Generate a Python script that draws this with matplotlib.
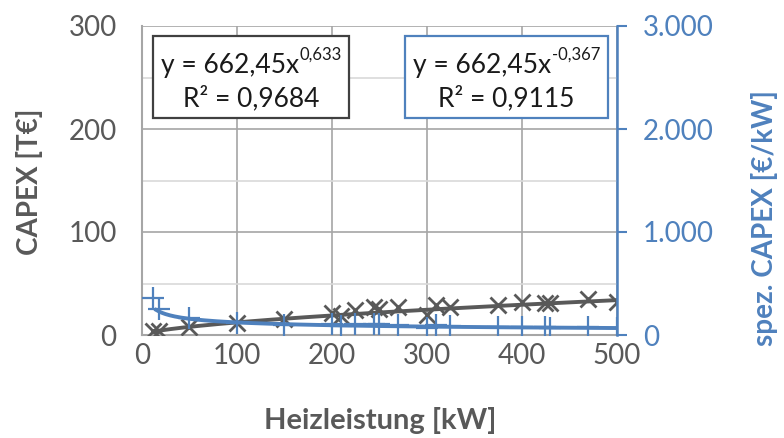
import numpy as np
import matplotlib
matplotlib.use("Agg")
import matplotlib.pyplot as plt
from matplotlib.patches import Rectangle

plt.rcParams['font.family'] = ['Lato', 'DejaVu Sans']

# ---- data ----
power_kw = [12, 18, 50, 100, 150, 200, 210, 225, 245, 250, 270, 300, 310, 325, 375, 400, 425, 430, 470, 500]
capex_teur = [3.5, 4.0, 8.1, 11.9, 15.2, 21.0, 18.0, 24.0, 27.0, 25.5, 27.0, 19.5, 29.0, 27.5, 29.0, 32.0, 31.0, 31.0, 35.0, 32.0]
spez_capex = [355, 250, 162, 119, 101, 105, 86, 107, 110, 102, 100, 65, 94, 85, 77, 80, 73, 72, 74, 64]

fit_coef = 662.45
fit_exp_capex = 0.633
fit_exp_spez = -0.367
eq_capex = ("y = 662,45x", "0,633", "R² = 0,9684")
eq_spez = ("y = 662,45x", "-0,367", "R² = 0,9115")

x_ticks = [0, 100, 200, 300, 400, 500]
y_left_ticks = [0, 100, 200, 300]
y_right_ticks = [0, 1000, 2000, 3000]
y_right_labels = ["0", "1.000", "2.000", "3.000"]

GRAY = '#595959'
BLUE = '#4F81BD'
TXT = '#595959'

W, H = 784, 438
fig = plt.figure(figsize=(W / 100, H / 100), dpi=100)
ax = fig.add_axes([141.7 / W, 1 - 335 / H, (616.7 - 141.7) / W, (335 - 26) / H])
ax2 = ax.twinx()

# grid
ax.set_xlim(0, 500)
ax.set_ylim(0, 300)
ax.set_xticks(x_ticks)
ax.set_yticks(y_left_ticks)
ax.set_yticks([50, 150, 250], minor=True)
ax.grid(True, which='major', axis='both', color='#A6A6A6', lw=1.2)
ax.grid(True, which='minor', axis='y', color='#D9D9D9', lw=1.2)
ax.set_axisbelow(True)
ax.tick_params(axis='both', which='both', length=0, labelsize=20, colors=TXT)
ax.tick_params(axis='x', pad=6)
ax.tick_params(axis='y', pad=18)
for s in ['top', 'right']:
    ax.spines[s].set_visible(False)
for s in ['left', 'bottom']:
    ax.spines[s].set_color('#A6A6A6')
    ax.spines[s].set_linewidth(1.5)

# primary series
xx = np.linspace(min(power_kw), 500, 300)
ax.plot(power_kw, capex_teur, ls='none', marker='x', ms=12, mew=2.0, color=GRAY, zorder=3)
ax.plot(xx, fit_coef * xx ** fit_exp_capex / 1000.0, color=GRAY, lw=2.8, zorder=4)

# secondary axis
ax2.set_ylim(0, 3000)
ax2.set_yticks(y_right_ticks)
ax2.set_yticklabels(y_right_labels)
ax2.tick_params(axis='y', length=7, width=1.5, color=BLUE, labelcolor=BLUE, labelsize=20, pad=12)
for s in ['top', 'left', 'bottom']:
    ax2.spines[s].set_visible(False)
ax2.spines['right'].set_color(BLUE)
ax2.spines['right'].set_linewidth(1.8)
ax2.plot(power_kw, spez_capex, ls='none', marker='+', ms=16, mew=1.6, color=BLUE, zorder=3)
xs = xx[xx >= 14]
ax2.plot(xs, fit_coef * xs ** fit_exp_spez, color=BLUE, lw=2.8, zorder=4)

# labels
fig.text(380 / W, 1 - 421 / H, "Heizleistung [kW]", ha='center', va='center',
         fontsize=21, fontweight='bold', color=TXT)
fig.text(30 / W, 1 - 182 / H, "CAPEX [T€]", ha='center', va='center', rotation=90,
         fontsize=20, fontweight='bold', color=TXT)
fig.text(765 / W, 1 - 218 / H, "spez. CAPEX [€/kW]", ha='center', va='center', rotation=90,
         fontsize=20, fontweight='bold', color=BLUE)

renderer = fig.canvas.get_renderer()

# equation boxes
def eq_box(x0, x1, y0, y1, edge, parts):
    main, sup, r2 = parts
    rect = Rectangle((x0 / W, 1 - y1 / H), (x1 - x0) / W, (y1 - y0) / H,
                     transform=fig.transFigure, facecolor='white', edgecolor=edge,
                     lw=1.6, zorder=10)
    fig.patches.append(rect)
    cx = (x0 + x1) / 2
    t1 = fig.text(0, 1 - 65 / H, main, ha='left', va='center', fontsize=19,
                  color='#1a1a1a', zorder=11)
    t2 = fig.text(0, 1 - 55 / H, sup, ha='left', va='center', fontsize=12,
                  color='#1a1a1a', zorder=11)
    w1 = t1.get_window_extent(renderer).width
    w2 = t2.get_window_extent(renderer).width
    start = cx - (w1 + w2) / 2
    t1.set_x(start / W)
    t2.set_x((start + w1 + 1) / W)
    fig.text(cx / W, 1 - 98 / H, r2, ha='center', va='center',
             fontsize=19, color='#1a1a1a', zorder=11)

eq_box(153, 349, 36, 118, '#404040', eq_capex)
eq_box(405, 608, 36, 118, BLUE, eq_spez)

fig.savefig("out.png", dpi=100)
